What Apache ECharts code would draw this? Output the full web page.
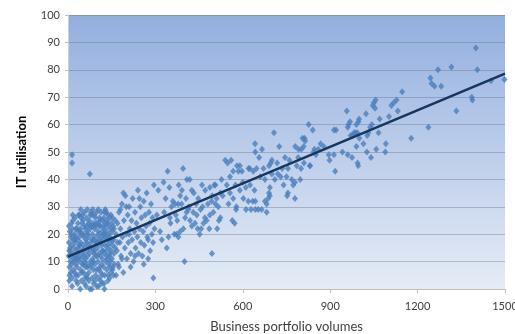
<!DOCTYPE html>
<html>
<head>
<meta charset="utf-8">
<script src="https://cdn.jsdelivr.net/npm/echarts@6/dist/echarts.min.js"></script>
<style>
  html, body { margin: 0; padding: 0; background: #ffffff; }
  #chart { width: 515px; height: 334px; }
</style>
</head>
<body>
<div id="chart"></div>
<script>
// Business portfolio volume vs IT utilisation, one point per observation: [volume, utilisation]
const clusterLow = [
  [2,12],[3,17],[4,3],[5,8],[6,21],[7,14],[8,10],[9,19],[3,23],[5,5],[7,15],[9,12],
  [11,20],[12,9],[13,16],[14,4],[15,22],[16,13],[17,18],[18,7],[19,11],[12,24],[14,1],[17,25],
  [21,15],[22,20],[23,6],[24,12],[25,17],[26,9],[27,22],[28,3],[29,14],[24,26],[26,19],[28,11],
  [31,8],[32,18],[33,13],[34,24],[35,5],[36,21],[37,10],[38,16],[39,27],[33,2],[35,15],[38,19],
  [41,12],[42,22],[43,7],[44,17],[45,26],[46,3],[47,14],[48,20],[49,9],[42,0],[45,11],[48,24],
  [51,16],[52,25],[53,6],[54,19],[55,12],[56,28],[57,2],[58,15],[59,22],[52,9],[55,20],[58,4],
  [61,11],[62,18],[63,26],[64,5],[65,14],[66,29],[67,8],[68,21],[69,16],[62,1],[65,23],[68,12],
  [71,19],[72,6],[73,25],[74,13],[75,0],[76,22],[77,10],[78,17],[79,28],[72,3],[78,8],
  [81,15],[82,27],[83,4],[84,20],[85,11],[86,24],[87,7],[88,18],[89,13],[82,0],[85,29],[88,2],
  [91,22],[92,9],[93,16],[94,26],[95,5],[96,19],[97,12],[98,28],[99,1],[92,14],[95,23],[98,7],
  [101,17],[102,24],[103,10],[104,29],[105,4],[106,20],[107,13],[108,26],[109,8],[102,15],[105,1],[108,18],
  [111,12],[112,23],[113,6],[114,28],[115,16],[116,9],[117,21],[118,14],[119,25],[112,3],[115,19],[118,11],
  [121,18],[122,8],[123,26],[124,13],[125,22],[126,5],[127,16],[128,29],[129,10],[122,20],[125,0],[128,24],
  [131,14],[132,21],[133,7],[134,25],[135,11],[136,18],[137,3],[138,23],[139,9],[132,28],[135,16],[138,5],
  [141,20],[142,12],[143,26],[144,8],[145,17],[146,22],[147,6],[148,14],[149,24],[143,19],[146,10],
  [151,11],[152,21],[153,7],[154,16],[155,23],[156,5],[157,18],[158,13],[159,9],[153,26],
  [4,14],[10,6],[16,27],[20,10],[23,18],[27,5],[30,22],[34,11],[36,27],[40,16],[43,21],[47,6],
  [50,27],[53,13],[56,23],[60,8],[63,17],[66,4],[70,24],[73,15],[76,27],[80,9],[83,18],[86,14],
  [90,27],[93,3],[96,24],[100,12],[103,21],[106,7],[110,25],[113,17],[116,2],[120,14],[123,23],
  [126,28],[130,19],[133,12],[136,24],[140,15],[143,4],[147,27],[150,18],[154,8],[158,22],
  [162,15],[165,5],[162,25],[170,17],[175,8],[57,10],[67,20],[77,23],[87,10],[97,17],[107,23],
  [117,5],[127,20],[137,27],[44,29],[64,9],[84,23],[104,17],[124,2],[144,13],
  [14,49],[14,46],[75,42]
];

const clusterMid = [
  [165,20],[168,14],[170,24],[172,9],[175,28],[178,17],[180,22],[182,12],[185,31],[187,19],
  [190,6],[192,25],[195,15],[197,34],[200,20],[202,11],[205,27],[207,17],[210,30],[212,22],
  [215,13],[218,25],[220,18],[222,33],[225,10],[228,21],[230,28],[232,15],[235,24],[238,19],
  [240,36],[242,13],[245,22],[248,30],[250,17],[252,26],[255,12],[258,21],[260,32],[262,16],
  [265,27],[268,23],[270,35],[272,19],[275,11],[278,28],[280,24],[282,14],[285,31],[288,20],
  [290,26],[292,17],[295,38],[297,22],[293,4],[185,11],[200,30],[215,8],[260,9],[245,33],
  [275,18],[230,12],[210,20],[190,35],[180,29]
];

const clusterUpper = [
  [310,36],[305,27],[316,21],[322,18],[328,39],[339,15],[342,43],[345,19],[348,37],[352,24],
  [355,30],[360,32],[365,20],[367,31],[370,27],[373,20],[378,31],[379,19],[385,34],[385,21],
  [390,31],[391,36],[395,44],[396,22],[400,10],[402,26],[407,28],[408,40],[413,29],[418,40],
  [419,25],[425,23],[425,36],[432,35],[436,24],[442,27],[447,33],[452,20],[457,22],[460,38],
  [465,24],[471,36],[476,25],[480,31],[487,37],[487,27],[493,32],[494,13],[499,28],[502,38],
  [506,31],[506,38],[510,33],[516,30],[518,25],[523,26],[523,35],[527,40],[531,34],[540,47],
  [545,38],[548,46],[551,31],[556,41],[556,35],[560,47],[564,25],[567,43],[567,33],[572,24],
  [577,29],[578,30],[580,45],[585,43],[590,45],[597,43],[602,33],[611,29],[619,32],[620,44],
  [624,44],[628,29],[634,32],[636,43],[642,53],[643,32],[643,29],[643,50],[647,44],[653,29],
  [656,48],[330,28],[335,33],[350,26],[375,25],[380,38],[405,33],[415,30],[430,28],[440,31],
  [445,22],[455,29],[462,30],[470,26],[485,22],[495,34],[512,22],[575,38],[590,36],[600,39],
  [610,37],[625,38],[640,36]
];

const clusterHigh = [
  [660,41],[676,40],[693,37],[690,35],[693,34],[676,32],[682,31],[687,33],[665,29],[682,28],
  [755,35],[752,34],[779,33],[768,40],[779,39],[797,40],[773,38],[755,44],[831,45],[917,43],
  [996,45],[666,51],[671,44],[690,45],[696,46],[700,47],[707,57],[718,46],[725,52],[780,52],
  [791,51],[801,51],[805,55],[809,52],[810,46],[812,55],[814,54],[826,60],[830,45],[840,58],
  [843,50],[846,51],[851,49],[859,51],[867,53],[878,52],[895,49],[898,47],[913,58],[913,49],
  [920,58],[942,50],[957,65],[960,59],[960,49],[963,60],[968,61],[970,56],[975,48],[977,56],
  [982,57],[987,57],[990,52],[990,60],[993,57],[994,46],[997,61],[999,62],[1000,55],
  [720,42],[735,44],[745,48],[760,47],[785,45],[740,38],[730,41],[710,40],[700,42],[750,41],
  [790,48],[800,44],
  [1014,53],[1023,64],[1026,50],[1027,56],[1031,57],[1037,59],[1040,48],[1043,60],[1046,67],
  [1050,68],[1054,66],[1056,69],[1058,51],[1066,57],[1070,62],[1089,50],[1091,53],[1102,63],
  [1110,67],[1118,68],[1128,69],[1132,65],[1147,72],[1178,55],
  [1237,59],[1244,77],[1248,75],[1258,74],[1270,80],[1281,74],[1316,81],[1333,65],[1386,70],
  [1388,69],[1400,88],[1405,80],[1452,76],[1498,76.5]
];

// Linear trend line end points
const trendLine = [[0, 11.8], [1500, 78.6]];

const xTicks = [0, 300, 600, 900, 1200, 1500];
const yTicks = [0, 10, 20, 30, 40, 50, 60, 70, 80, 90, 100];

const points = clusterLow.concat(clusterMid, clusterUpper, clusterHigh);

const chart = echarts.init(document.getElementById('chart'), null, { renderer: 'canvas' });
const labelFont = 'Lato, "Open Sans", sans-serif';

chart.setOption({
  animation: false,
  grid: {
    left: 68, right: 10, top: 15, bottom: 45,
    outerBoundsMode: 'none',
    containLabel: false,
    show: true,
    borderWidth: 0,
    backgroundColor: new echarts.graphic.LinearGradient(0, 0, 0, 1, [
      { offset: 0, color: '#93afdf' },
      { offset: 1, color: '#e6ecf6' }
    ])
  },
  xAxis: {
    type: 'value',
    min: xTicks[0], max: xTicks[xTicks.length - 1], interval: 300,
    name: 'Business portfolio volumes',
    nameLocation: 'middle', nameGap: 31,
    nameTextStyle: { fontFamily: labelFont, fontSize: 13, color: '#404040' },
    axisLine: { show: true, lineStyle: { color: '#bfbfbf', width: 1 } },
    axisTick: { show: true, length: 4, lineStyle: { color: '#bfbfbf' } },
    axisLabel: {
      fontFamily: labelFont, fontSize: 11, color: '#404040', margin: 12,
      formatter: (v) => String(v)
    },
    splitLine: { show: false }
  },
  yAxis: {
    type: 'value',
    min: yTicks[0], max: yTicks[yTicks.length - 1], interval: 10,
    name: 'IT utilisation',
    nameLocation: 'middle', nameGap: 40,
    nameTextStyle: { fontFamily: labelFont, fontSize: 13, fontWeight: 'bold', color: '#000000' },
    axisLine: { show: true, lineStyle: { color: '#c8d0dc', width: 1 } },
    axisTick: { show: true, length: 3, lineStyle: { color: '#bfbfbf' } },
    axisLabel: { fontFamily: labelFont, fontSize: 11, color: '#404040', margin: 8 },
    splitLine: { show: true, lineStyle: { color: 'rgba(95,110,135,0.38)', width: 1 } }
  },
  series: [
    {
      type: 'scatter',
      data: points,
      symbol: 'diamond',
      symbolSize: [6, 7],
      itemStyle: { color: '#4a7ebb' },
      z: 2
    },
    {
      type: 'line',
      data: trendLine,
      showSymbol: false,
      lineStyle: { color: '#17365d', width: 2.6 },
      z: 3
    }
  ]
});
</script>
</body>
</html>
